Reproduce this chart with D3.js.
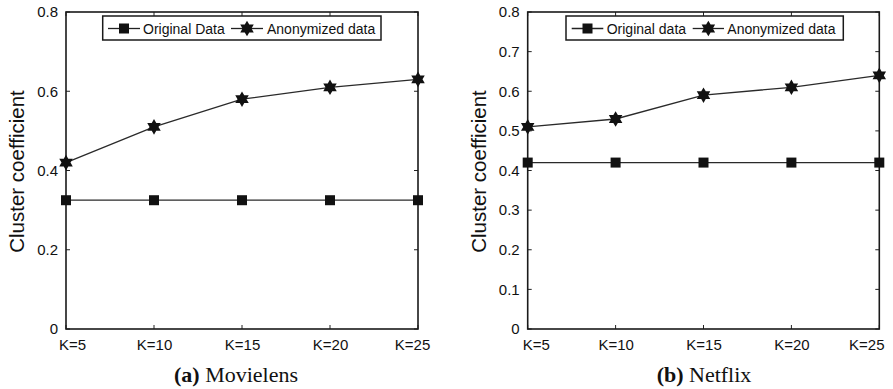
<!DOCTYPE html>
<html>
<head>
<meta charset="utf-8">
<script src="https://cdn.jsdelivr.net/npm/d3@7"></script>
<style>
  html, body { margin: 0; padding: 0; background: #fff; }
  svg { display: block; }
  text { font-family: "Liberation Sans", Arial, sans-serif; fill: #111; }
  .cap { font-family: "Liberation Serif", "Times New Roman", serif; }
</style>
</head>
<body>
<svg id="chart" width="893" height="389"></svg>
<script>
// ---- data ----
const categories = ["K=5", "K=10", "K=15", "K=20", "K=25"];
const movielensOriginal = [0.325, 0.325, 0.325, 0.325, 0.325];
const movielensAnonymized = [0.42, 0.51, 0.58, 0.61, 0.63];
const netflixOriginal = [0.42, 0.42, 0.42, 0.42, 0.42];
const netflixAnonymized = [0.51, 0.53, 0.59, 0.61, 0.64];
const movielensYTicks = [0, 0.2, 0.4, 0.6, 0.8];
const netflixYTicks = [0, 0.1, 0.2, 0.3, 0.4, 0.5, 0.6, 0.7, 0.8];
const movielensLegend = ["Original Data", "Anonymized data"];
const netflixLegend = ["Original data", "Anonymized data"];
const yTitle = "Cluster coefficient";
const captions = [["(a)", " Movielens"], ["(b)", " Netflix"]];

const svg = d3.select("#chart");

const panels = [
  { x0: 66, x1: 418, orig: movielensOriginal, anon: movielensAnonymized, ticks: movielensYTicks,
    legend: movielensLegend, caption: captions[0], capX: 236, titleX: 24,
    legBox: [102.7, 381], legItems: [[108, 140, 143], [231, 263, 267]],
    firstShift: 6, lastShift: -6 },
  { x0: 527.7, x1: 879.3, orig: netflixOriginal, anon: netflixAnonymized, ticks: netflixYTicks,
    legend: netflixLegend, caption: captions[1], capX: 704, titleX: 486,
    legBox: [566, 843.3], legItems: [[571.7, 603.3, 606.7], [692.7, 724, 727.3]],
    firstShift: 8, lastShift: -13 }
];
const yTop = 12, yBot = 329;

function hexagram(r) {
  const pts = [];
  const ri = r / Math.sqrt(3);
  for (let i = 0; i < 12; i++) {
    const a = -Math.PI / 2 + i * Math.PI / 6;
    const rr = i % 2 === 0 ? r : ri;
    pts.push([rr * Math.cos(a), rr * Math.sin(a)]);
  }
  return "M" + pts.map(p => p[0].toFixed(2) + "," + p[1].toFixed(2)).join("L") + "Z";
}
const starPath = hexagram(7.8);
const sq = 10;

panels.forEach(p => {
  const g = svg.append("g");
  const x = d3.scalePoint().domain(categories).range([p.x0, p.x1]);
  const y = d3.scaleLinear().domain([0, 0.8]).range([yBot, yTop]);

  // bottom axis
  const xAxis = d3.axisBottom(x).tickSize(0).tickPadding(8);
  const gx = g.append("g").attr("transform", `translate(0,${yBot})`).call(xAxis);
  gx.select(".domain").remove();
  gx.selectAll("text").style("font-size", "15px").attr("fill", "#111")
    .attr("dy", "0.85em")
    .attr("dx", (d, i) => i === 0 ? p.firstShift : (i === categories.length - 1 ? p.lastShift : 0));

  // left axis
  const yAxis = d3.axisLeft(y).tickValues(p.ticks).tickSize(0).tickPadding(8)
    .tickFormat(d => d === 0 ? "0" : d3.format(".1f")(d));
  const gy = g.append("g").attr("transform", `translate(${p.x0},0)`).call(yAxis);
  gy.select(".domain").remove();
  gy.selectAll("text").style("font-size", "15px").attr("fill", "#111");

  // inward tick marks on all four sides
  const tl = 4;
  const tk = g.append("g").attr("stroke", "#222").attr("stroke-width", 1);
  categories.forEach(c => {
    tk.append("line").attr("x1", x(c)).attr("x2", x(c)).attr("y1", yBot).attr("y2", yBot - tl);
    tk.append("line").attr("x1", x(c)).attr("x2", x(c)).attr("y1", yTop).attr("y2", yTop + tl);
  });
  p.ticks.forEach(t => {
    tk.append("line").attr("x1", p.x0).attr("x2", p.x0 + tl).attr("y1", y(t)).attr("y2", y(t));
    tk.append("line").attr("x1", p.x1).attr("x2", p.x1 - tl).attr("y1", y(t)).attr("y2", y(t));
  });

  // frame
  g.append("rect").attr("x", p.x0).attr("y", yTop).attr("width", p.x1 - p.x0).attr("height", yBot - yTop)
    .attr("fill", "none").attr("stroke", "#1a1a1a").attr("stroke-width", 1.6);

  // y title
  g.append("text")
    .attr("transform", `translate(${p.titleX},${(yTop + yBot) / 2 + 1}) rotate(-90)`)
    .attr("text-anchor", "middle")
    .style("font-size", "20.5px")
    .text(yTitle);

  // lines
  const line = d3.line().x((d, i) => x(categories[i])).y(d => y(d));
  [p.orig, p.anon].forEach(series => {
    g.append("path").datum(series).attr("d", line)
      .attr("fill", "none").attr("stroke", "#2a2a2a").attr("stroke-width", 1.3);
  });
  // markers
  g.selectAll(".sq").data(p.orig).enter().append("rect")
    .attr("x", (d, i) => x(categories[i]) - sq / 2).attr("y", d => y(d) - sq / 2)
    .attr("width", sq).attr("height", sq).attr("fill", "#111");
  g.selectAll(".st").data(p.anon).enter().append("path")
    .attr("transform", (d, i) => `translate(${x(categories[i])},${y(d)})`)
    .attr("d", starPath).attr("fill", "#111");

  // legend
  const ly0 = 16, ly1 = 40, lyc = 28.5;
  g.append("rect").attr("x", p.legBox[0]).attr("y", ly0).attr("width", p.legBox[1] - p.legBox[0])
    .attr("height", ly1 - ly0).attr("fill", "#fff").attr("stroke", "#1a1a1a").attr("stroke-width", 1.5);
  p.legItems.forEach((it, k) => {
    g.append("line").attr("x1", it[0]).attr("x2", it[1]).attr("y1", lyc).attr("y2", lyc)
      .attr("stroke", "#222").attr("stroke-width", 1.3);
    const cx = (it[0] + it[1]) / 2;
    if (k === 0) {
      g.append("rect").attr("x", cx - sq / 2).attr("y", lyc - sq / 2).attr("width", sq).attr("height", sq).attr("fill", "#111");
    } else {
      g.append("path").attr("transform", `translate(${cx},${lyc})`).attr("d", starPath).attr("fill", "#111");
    }
    g.append("text").attr("x", it[2]).attr("y", lyc).attr("dy", "0.36em")
      .style("font-size", "14px").text(p.legend[k]);
  });

  // caption
  const cap = g.append("text").attr("class", "cap").attr("x", p.capX).attr("y", 382)
    .attr("text-anchor", "middle").style("font-size", "22px");
  cap.append("tspan").attr("font-weight", "bold").text(p.caption[0]);
  cap.append("tspan").text(p.caption[1]);
});
</script>
</body>
</html>
